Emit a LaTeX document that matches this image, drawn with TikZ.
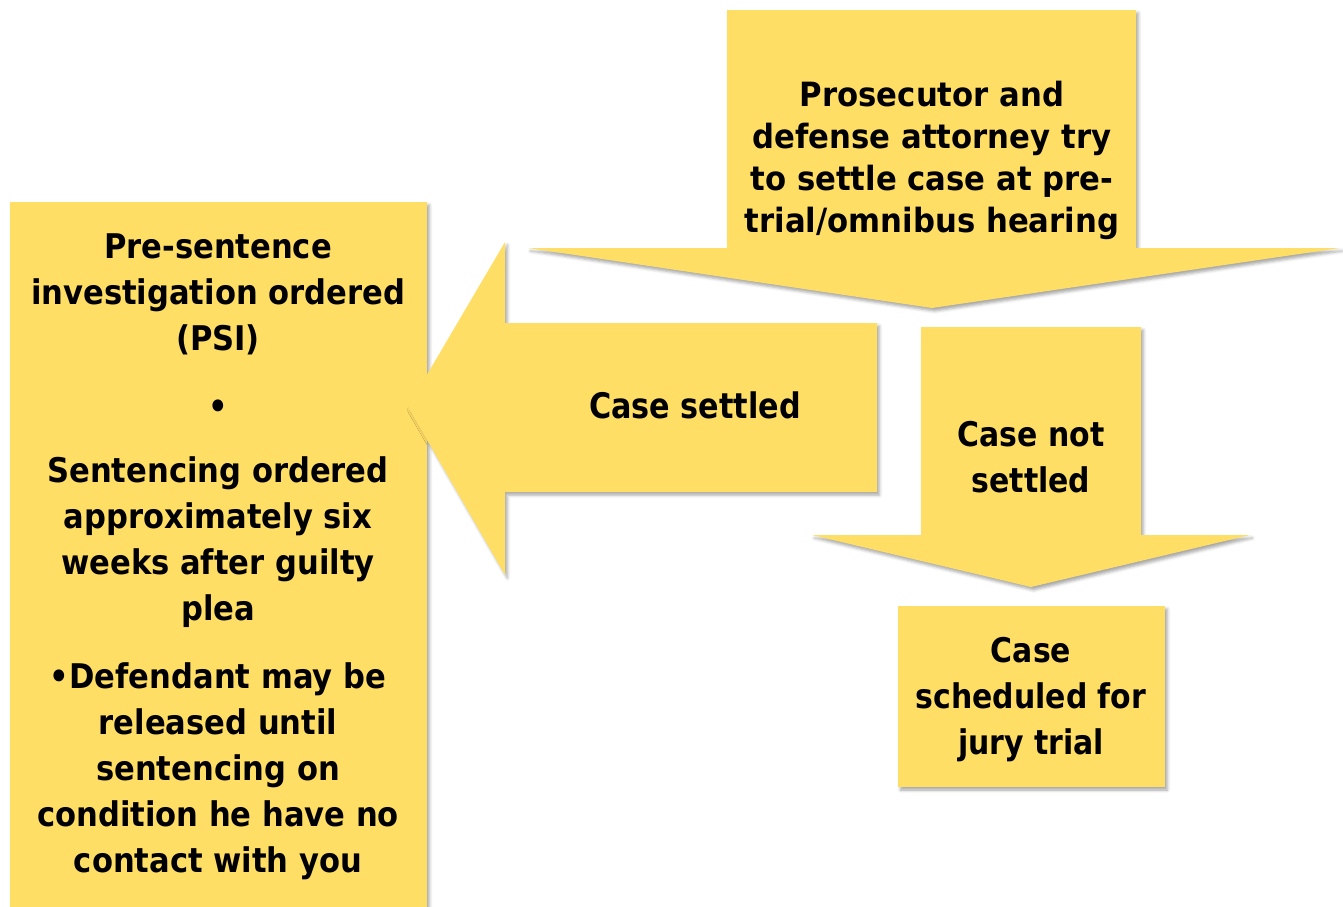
\documentclass[tikz,border=0pt]{standalone}
\usepackage{fontspec}
\setmainfont{DejaVu Sans}
\usetikzlibrary{shadows.blur}
\definecolor{notegold}{RGB}{255,222,102}
\newcommand{\steptext}[4]{\scalebox{#1}[1]{\fontsize{#2}{#3}\selectfont\bfseries\begin{tabular}{@{}c@{}}#4\end{tabular}}}

\begin{document}
\begin{tikzpicture}[x=0.5pt, y=-0.5pt,
		panel/.style={fill=notegold, blur shadow={shadow xshift=1.2pt, shadow yshift=-1.5pt, shadow blur radius=1.5pt, shadow opacity=35}},
		notetext/.style={inner sep=0pt}]
		\useasboundingbox (0,0) rectangle (1343,906);
		% left box with the sentencing steps
		\fill[panel] (10,202) rectangle (427,912);
		\node[notetext] (psi) at (218,556) {\steptext{0.9}{17}{23}{Pre-sentence\\investigation ordered\\(PSI)\\[11pt] •\\[9pt] Sentencing ordered\\approximately six\\weeks after guilty\\plea\\[11pt] •Defendant may be\\released until\\sentencing on\\condition he have no\\contact with you}};
		% top arrow
		\fill[panel] (727,10) -- (1136,10) -- (1136,248) -- (1340,248) -- (932,308) -- (528,248) -- (727,248) -- cycle;
		\node[notetext] (talks) at (932,161) {\steptext{0.92}{16.7}{21}{Prosecutor and\\defense attorney try\\to settle case at pre-\\trial/omnibus hearing}};
		% arrow to the left
		\fill[panel] (877,323) -- (877,492) -- (505,492) -- (505,575) -- (408,407) -- (505,242) -- (505,323) -- cycle;
		\node[notetext] (settled) at (695,409) {\steptext{0.86}{17.6}{23}{Case settled}};
		% arrow down
		\fill[panel] (921,327) -- (1141,327) -- (1141,535) -- (1250,535) -- (1031,587) -- (812,535) -- (921,535) -- cycle;
		\node[notetext] (notsettled) at (1031,460) {\steptext{0.88}{17}{23}{Case not\\settled}};
		% trial box
		\fill[panel] (898,606) rectangle (1165,787);
		\node[notetext] (trial) at (1031,699) {\steptext{0.88}{17}{23}{Case\\scheduled for\\jury trial}};
	\end{tikzpicture}
\end{document}
